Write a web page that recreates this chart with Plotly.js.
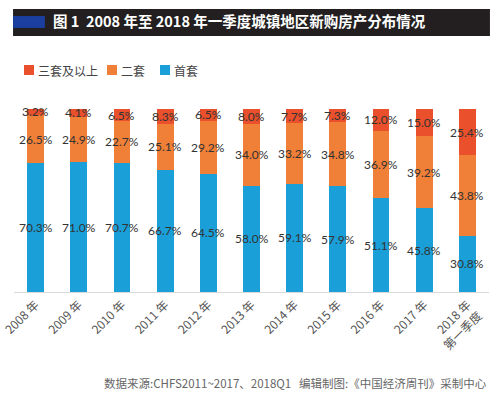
<!DOCTYPE html>
<html><head><meta charset="utf-8">
<script src="https://cdn.plot.ly/plotly-3.0.1.min.js"></script>
<style>html,body{margin:0;padding:0;background:#fff;}#chart{width:500px;height:398px;}</style>
</head><body><div id="chart"></div>
<script>
const categories = ["2008 年","2009 年","2010 年","2011 年","2012 年","2013 年","2014 年","2015 年","2016 年","2017 年","2018 年<br>第一季度"];
const firstHome = [70.3,71.0,70.7,66.7,64.5,58.0,59.1,57.9,51.1,45.8,30.8];
const secondHome = [26.5,24.9,22.7,25.1,29.2,34.0,33.2,34.8,36.9,39.2,43.8];
const thirdPlus = [3.2,4.1,6.5,8.3,6.5,8.0,7.7,7.3,12.0,15.0,25.4];
const seriesNames = ["首套","二套","三套及以上"];
const colors = ["#1a9fd9","#f07f38","#e9502b"];

const numFont = "Lato, 'Noto Sans CJK SC', sans-serif";
const cjk = "'Noto Sans CJK SC', sans-serif";
const series = [firstHome, secondHome, thirdPlus];
const data = series.map((y, i) => ({
  type: "bar", x: categories, y: y, name: seriesNames[i],
  marker: {color: colors[i]}, hoverinfo: "none", showlegend: false
}));

// value labels centred in each segment, positioned via data coordinates
const annotations = [];
categories.forEach((c, j) => {
  let base = 0;
  series.forEach((s) => {
    annotations.push({x: c, y: base + s[j] / 2, xref: "x", yref: "y", text: s[j].toFixed(1) + "%",
      showarrow: false, font: {family: numFont, size: 12, color: "#333"}});
    base += s[j];
  });
});

// custom legend (order: 三套及以上, 二套, 首套)
const legendX = [24, 107, 160];
const shapes = [
  {type: "rect", xref: "paper", yref: "paper", x0: -0.002, x1: 1.002, y0: 1.399, y1: 1.546, fillcolor: "#231f20", line: {width: 0}, layer: "below"},
  {type: "rect", xref: "paper", yref: "paper", x0: -0.002, x1: 0.065, y0: 1.443, y1: 1.508, fillcolor: "#1b3fa0", line: {width: 0}, layer: "below"}
];
const px = v => (v - 14) / 475;
const py = v => (292 - v) / 183;
[2, 1, 0].forEach((si, k) => {
  shapes.push({type: "rect", xref: "paper", yref: "paper", x0: px(legendX[k]), x1: px(legendX[k] + 10),
    y0: py(75), y1: py(65), fillcolor: colors[si], line: {width: 0}});
  annotations.push({text: seriesNames[si], xref: "paper", yref: "paper", x: px(legendX[k] + 12), xanchor: "left",
    y: py(70), yanchor: "middle", showarrow: false, font: {family: cjk, size: 12, color: "#444"}});
});

annotations.push({text: "数据来源:CHFS2011~2017、2018Q1   编辑制图:《中国经济周刊》采制中心", xref: "paper", yref: "paper",
  x: 1.0, xanchor: "right", y: py(383), yanchor: "middle", showarrow: false,
  font: {family: cjk, size: 11.5, color: "#666"}});

const layout = {
  width: 500, height: 398,
  margin: {l: 14, r: 11, t: 109, b: 106},
  paper_bgcolor: "#fff", plot_bgcolor: "#fff",
  barmode: "stack", bargap: 0.61,
  showlegend: false,
  title: {text: "图 1  2008 年至 2018 年一季度城镇地区新购房产分布情况", x: 0.106, xanchor: "left", y: 0.944, yanchor: "middle",
    font: {family: cjk, size: 14.5, color: "#fff", weight: "bold"}},
  xaxis: {type: "category", range: [-0.5, 10.5], showline: true, linecolor: "#d9d9d9", linewidth: 1,
    ticks: "", tickangle: -45, tickfont: {family: cjk, size: 12, color: "#555"}, fixedrange: true},
  yaxis: {range: [0, 100], visible: false, showgrid: false, zeroline: false, fixedrange: true},
  shapes: shapes,
  annotations: annotations
};
Plotly.newPlot("chart", data, layout, {displayModeBar: false, staticPlot: true});
</script></body></html>
